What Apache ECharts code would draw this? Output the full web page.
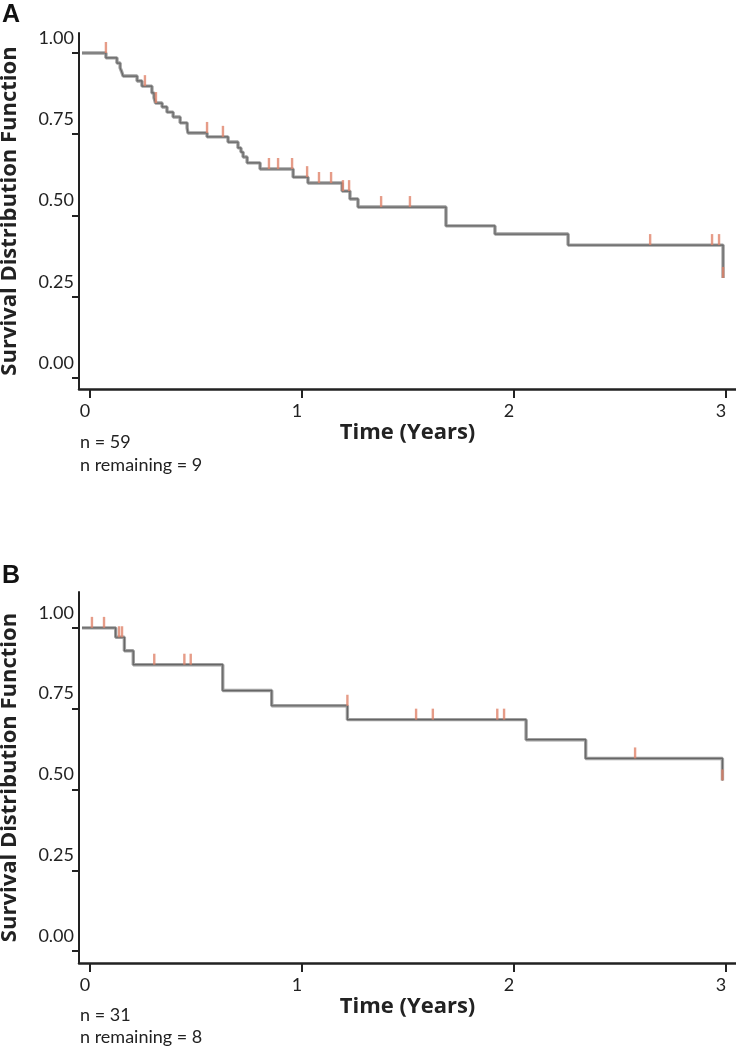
<!DOCTYPE html>
<html>
<head>
<meta charset="utf-8">
<script src="https://cdn.jsdelivr.net/npm/echarts@6/dist/echarts.min.js"></script>
<style>
html,body{margin:0;padding:0;background:#fff;}
#chart{width:736px;height:1050px;}
</style>
</head>
<body>
<div id="chart"></div>
<script>
// ---- Data ----
const yTickValues = [0, 0.25, 0.5, 0.75, 1];
const xTickValues = [0, 1, 2, 3];
const xAxisTitle = 'Time (Years)';
const yAxisTitle = 'Survival Distribution Function';

// Panel A: Kaplan-Meier step points (time in years, survival)
const timesA = [-0.038, 0.075, 0.127, 0.142, 0.149, 0.156, 0.222, 0.245, 0.292, 0.302, 0.309, 0.340, 0.363, 0.392, 0.425, 0.458, 0.462, 0.552, 0.651, 0.698, 0.712, 0.722, 0.741, 0.802, 0.958, 1.028, 1.189, 1.226, 1.264, 1.679, 1.910, 2.255, 2.986];
const survA  = [1.000, 0.985, 0.969, 0.954, 0.943, 0.929, 0.914, 0.898, 0.877, 0.862, 0.846, 0.834, 0.818, 0.803, 0.785, 0.769, 0.754, 0.742, 0.726, 0.708, 0.695, 0.680, 0.662, 0.643, 0.618, 0.600, 0.575, 0.551, 0.526, 0.468, 0.443, 0.409, 0.308];
// Panel A censored observations
const censTimesA = [0.075, 0.259, 0.311, 0.552, 0.627, 0.844, 0.887, 0.953, 1.024, 1.080, 1.137, 1.193, 1.222, 1.373, 1.509, 2.642, 2.934, 2.967, 2.986];
const censSurvA  = [1.000, 0.898, 0.846, 0.754, 0.742, 0.643, 0.643, 0.643, 0.618, 0.600, 0.600, 0.575, 0.575, 0.526, 0.526, 0.409, 0.409, 0.409, 0.308];
const nTotalA = 59, nRemainA = 9;

// Panel B
const timesB = [-0.038, 0.121, 0.162, 0.204, 0.626, 0.857, 1.214, 2.057, 2.338, 2.983];
const survB  = [1.000, 0.971, 0.929, 0.886, 0.806, 0.759, 0.716, 0.654, 0.596, 0.528];
const censTimesB = [0.009, 0.066, 0.137, 0.151, 0.303, 0.445, 0.475, 1.214, 1.538, 1.617, 1.921, 1.953, 2.571, 2.983];
const censSurvB  = [1.000, 1.000, 0.971, 0.971, 0.886, 0.886, 0.886, 0.759, 0.716, 0.716, 0.716, 0.716, 0.596, 0.528];
const nTotalB = 31, nRemainB = 8;

// ---- Chart ----
const FONT = 'Lato, "Open Sans", sans-serif';
const TFONT = '"Open Sans", Lato, sans-serif';
const zip = (a, b) => a.map((v, i) => [v, b[i]]);

function xAxisFor(idx) {
  return {
    type: 'value', gridIndex: idx, min: -0.052, max: 3.047,
    name: xAxisTitle, nameLocation: 'middle', nameGap: 33,
    nameTextStyle: {fontFamily: TFONT, fontWeight: 'bold', fontSize: 22, color: '#222'},
    axisLine: {onZero: false, lineStyle: {color: '#222', width: 2.5}},
    axisTick: {customValues: xTickValues, length: 9, lineStyle: {color: '#222', width: 2}},
    axisLabel: {customValues: xTickValues, margin: 13, fontFamily: FONT, fontSize: 18, color: '#222', padding: [0, 10, 0, 0]},
    splitLine: {show: false}
  };
}
function yAxisFor(idx, min, max) {
  return {
    type: 'value', gridIndex: idx, min: min, max: max,
    name: yAxisTitle, nameLocation: 'middle', nameGap: 58, nameRotate: 90,
    nameTextStyle: {fontFamily: TFONT, fontWeight: 'bold', fontSize: 22, color: '#222'},
    axisLine: {onZero: false, lineStyle: {color: '#222', width: 2}},
    axisTick: {customValues: yTickValues, length: 7, lineStyle: {color: '#222', width: 2}},
    axisLabel: {customValues: yTickValues, margin: 5, fontFamily: FONT, fontSize: 18, color: '#222',
      verticalAlign: 'bottom', lineHeight: 18, padding: [0, 0, 6, 0],
      formatter: v => v.toFixed(2)},
    splitLine: {show: false}
  };
}
function kmSeries(idx, t, s, ct, cs) {
  return [
    {type: 'line', xAxisIndex: idx, yAxisIndex: idx, step: 'end', data: zip(t, s), symbol: 'none',
     lineStyle: {color: '#a0a0a0', width: 3.4}, z: 2, silent: true},
    {type: 'line', xAxisIndex: idx, yAxisIndex: idx, step: 'end', data: zip(t, s), symbol: 'none',
     lineStyle: {color: '#666666', width: 1.2}, z: 3, silent: true},
    {type: 'scatter', xAxisIndex: idx, yAxisIndex: idx, data: zip(ct, cs), symbol: 'rect',
     symbolSize: [2.4, 11], symbolOffset: [0, -5.5], itemStyle: {color: '#e0836a'}, z: 4, silent: true}
  ];
}

const chart = echarts.init(document.getElementById('chart'), null, {renderer: 'canvas'});
chart.setOption({
  animation: false,
  backgroundColor: '#fff',
  grid: [
    {left: 79, top: 33, width: 657, height: 356, containLabel: false, outerBoundsMode: 'none'},
    {left: 79, top: 592, width: 657, height: 371, containLabel: false, outerBoundsMode: 'none'}
  ],
  xAxis: [xAxisFor(0), xAxisFor(1)],
  yAxis: [yAxisFor(0, -0.0338, 1.0615), yAxisFor(1, -0.037, 1.111)],
  series: [...kmSeries(0, timesA, survA, censTimesA, censSurvA), ...kmSeries(1, timesB, survB, censTimesB, censSurvB)],
  graphic: [
    {type: 'text', left: 2, top: 3, style: {text: 'A', font: 'bold 25px "Liberation Sans", Arial, sans-serif', fill: '#111'}},
    {type: 'text', left: 2, top: 564, style: {text: 'B', font: 'bold 25px "Liberation Sans", Arial, sans-serif', fill: '#111'}},
    {type: 'text', left: 80, top: 433, style: {text: 'n = ' + nTotalA, font: '18px ' + FONT, fill: '#222'}},
    {type: 'text', left: 80, top: 456, style: {text: 'n remaining = ' + nRemainA, font: '18px ' + FONT, fill: '#222'}},
    {type: 'text', left: 80, top: 1006, style: {text: 'n = ' + nTotalB, font: '18px ' + FONT, fill: '#222'}},
    {type: 'text', left: 80, top: 1028, style: {text: 'n remaining = ' + nRemainB, font: '18px ' + FONT, fill: '#222'}}
  ]
});
</script>
</body>
</html>
